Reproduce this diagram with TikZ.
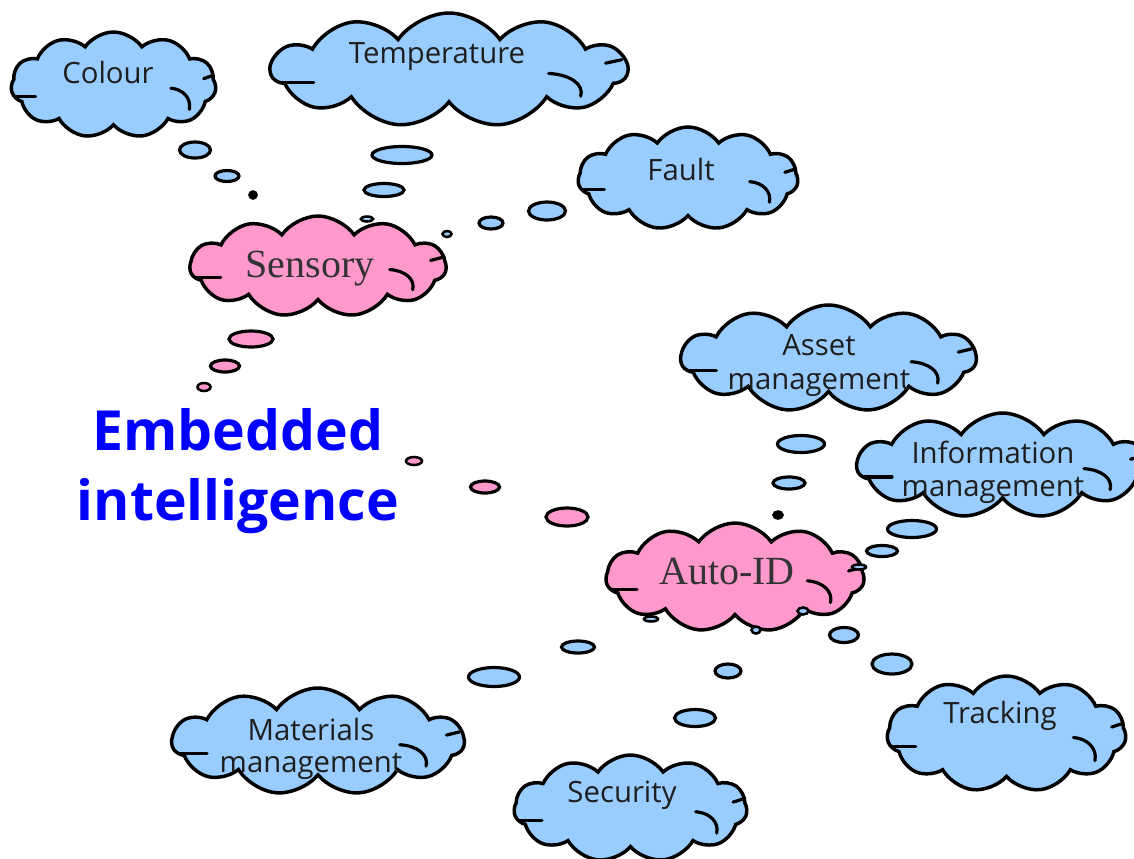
\documentclass[tikz,border=0pt]{standalone}
\usepackage{fontspec}
\newfontfamily\comicf{Open Sans}
\newfontfamily\serf{Liberation Serif}
\usetikzlibrary{shapes.symbols,shapes.geometric}
\definecolor{skyb}{HTML}{99CCFF}
\definecolor{pinkc}{HTML}{FF99CC}
\definecolor{txtc}{HTML}{1E1E1E}
\definecolor{embblue}{HTML}{0000FF}
\tikzset{
 cloudbox/.style={cloud, cloud puffs=11, cloud puff arc=110, cloud ignores aspect, draw=black, line width=2.6pt, inner sep=0pt},
 cloudmark/.style={draw=black, line width=2.4pt, line cap=round},
 lbl/.style={anchor=base, font=\comicf\fontsize{22}{26}\selectfont, text=txtc, inner sep=0pt},
 serlbl/.style={anchor=base, font=\serf\fontsize{30}{36}\selectfont, text=black!80, inner sep=0pt},
 bub/.style={ellipse, draw=black, line width=2.4pt, inner sep=0pt},
 tinybub/.style={bub, line width=1.9pt},
 emb/.style={anchor=base, font=\comicf\bfseries\fontsize{41.5}{50}\selectfont, text=embblue, inner sep=0pt},
}
\newcommand\mycloud[6]{%
 \node[cloudbox, fill=#6, minimum width=#4*0.75pt, minimum height=#5*0.75pt] (#1) at (#2,#3) {};
 \begin{scope}[shift={(#2,#3)}, xscale=#4/2, yscale=#5/2]
  \draw[cloudmark] (-0.95,0.22) -- (-0.76,0.22);
  \draw[cloudmark] (0.56,0.06) .. controls (0.68,0.08) and (0.76,0.25) .. (0.74,0.46);
  \draw[cloudmark] (0.97,-0.18) -- (0.88,-0.12);
 \end{scope}}
\newcommand\mybub[7][bub]{\node[#1, fill=#7, minimum width=#5*0.75pt, minimum height=#6*0.75pt] (#2) at (#3,#4) {};}
\begin{document}
\begin{tikzpicture}[x=0.75pt, y=-0.75pt]
\useasboundingbox (0,0) rectangle (1134,858);
\fill[white] (0,0) rectangle (1134,858);
% clouds
\mycloud{colour}{113.5}{85}{205}{106}{skyb}
\mycloud{temp}{449}{70}{356}{114}{skyb}
\mycloud{fault}{688}{178.5}{220}{103}{skyb}
\mycloud{sensory}{318}{266.5}{256}{101}{pinkc}
\mycloud{asset}{828.5}{358.5}{295}{107}{skyb}
\mycloud{info}{1002.5}{465.5}{291}{105}{skyb}
\mycloud{autoid}{735}{577.5}{258}{109}{pinkc}
\mycloud{materials}{318}{741.5}{292}{107}{skyb}
\mycloud{security}{630.5}{808.5}{233}{107}{skyb}
\mycloud{tracking}{1006.5}{734}{239}{116}{skyb}
% labels
\node[lbl] (colourl) at (108,83) {Colour};
\node[lbl] (templ) at (437,63) {Temperature};
\node[lbl] (faultl) at (681,180) {Fault};
\node[serlbl] (sensoryl) at (310,277) {Sensory};
\node[lbl] (assetl1) at (819,355) {Asset};
\node[lbl] (assetl2) at (819,389) {management};
\node[lbl] (infol1) at (993,463) {Information};
\node[lbl] (infol2) at (993,496) {management};
\node[serlbl] (autoidl) at (727,584) {Auto-ID};
\node[lbl] (matl1) at (311,740) {Materials};
\node[lbl] (matl2) at (311,772) {management};
\node[lbl] (secl) at (622,802) {Security};
\node[lbl] (trackl) at (1000,723) {Tracking};
\node[emb] (emb1) at (238,450) {Embedded};
\node[emb] (emb2) at (238,520) {intelligence};
% bubbles
\mybub{cb1}{195}{150}{31}{16}{skyb}
\mybub{cb2}{227}{176}{24}{11}{skyb}
\mybub[tinybub]{cb3}{253}{195}{7}{7}{black}
\mybub{tb1}{402}{155}{60}{17}{skyb}
\mybub{tb2}{384}{190}{40}{13}{skyb}
\mybub[tinybub]{tb3}{367}{219}{12}{5}{skyb}
\mybub{fb1}{547}{211}{37}{18}{skyb}
\mybub{fb2}{491}{223}{24}{12}{skyb}
\mybub[tinybub]{fb3}{447}{234}{9}{6}{skyb}
\mybub{sb1}{251}{339}{44}{16}{pinkc}
\mybub{sb2}{225}{366}{29}{12}{pinkc}
\mybub[tinybub]{sb3}{204}{387}{13}{8}{pinkc}
\mybub[tinybub]{eb1}{414}{461}{16}{8}{pinkc}
\mybub{eb2}{485}{487}{29}{12}{pinkc}
\mybub{eb3}{567}{517}{42}{18}{pinkc}
\mybub{ab1}{801}{444}{47}{17}{skyb}
\mybub{ab2}{789}{483}{32}{12}{skyb}
\mybub[tinybub]{ab3}{778}{515}{9}{7}{black}
\mybub{ib1}{912}{529}{49}{17}{skyb}
\mybub{ib2}{882}{551}{31}{11}{skyb}
\mybub[tinybub]{ib3}{859}{567}{14}{5}{skyb}
\mybub[tinybub]{kb1}{803}{611}{11}{7}{skyb}
\mybub{kb2}{844}{635}{29}{15}{skyb}
\mybub{kb3}{892}{664}{40}{20}{skyb}
\mybub[tinybub]{yb1}{756}{630}{9}{7}{skyb}
\mybub{yb2}{728}{671}{26}{14}{skyb}
\mybub{yb3}{695}{718}{41}{17}{skyb}
\mybub[tinybub]{mb1}{651}{619}{14}{5}{skyb}
\mybub{mb2}{578}{647}{33}{12}{skyb}
\mybub{mb3}{494}{677}{51}{19}{skyb}
\end{tikzpicture}
\end{document}
